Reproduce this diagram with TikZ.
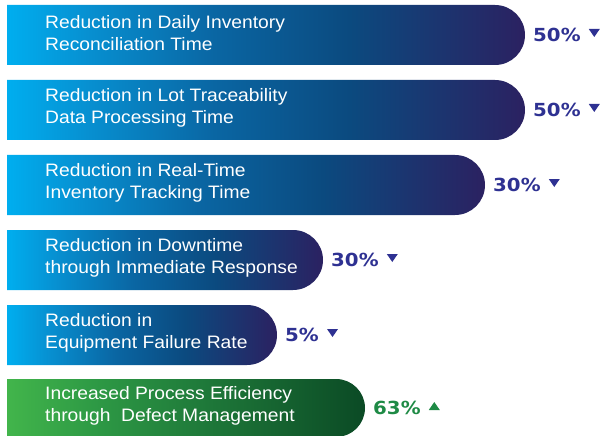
\documentclass[tikz,border=0pt]{standalone}
\usepackage{fontspec}
\setmainfont{Liberation Sans}[FakeStretch=1.07]
\newfontfamily\pctfont{DejaVu Sans}[FakeStretch=1.1]
\usepackage{tikz}
\usetikzlibrary{positioning,calc}

\definecolor{barA}{HTML}{00AEEF}
\definecolor{barB}{HTML}{078FD0}
\definecolor{barC}{HTML}{0A66A3}
\definecolor{barD}{HTML}{0B4A7F}
\definecolor{barE}{HTML}{2B2161}
\definecolor{grnA}{HTML}{42B54B}
\definecolor{grnB}{HTML}{2E9A45}
\definecolor{grnC}{HTML}{1F7A3A}
\definecolor{grnE}{HTML}{0B4A25}
\definecolor{pctblue}{HTML}{2E3192}
\definecolor{pctgreen}{HTML}{1E8A45}

\pgfdeclarehorizontalshading{bluebar}{100bp}{color(0bp)=(barA); color(25bp)=(barA); color(33bp)=(barB); color(45bp)=(barC); color(58bp)=(barD); color(75bp)=(barE); color(100bp)=(barE)}
\pgfdeclarehorizontalshading{greenbar}{100bp}{color(0bp)=(grnA); color(25bp)=(grnA); color(37bp)=(grnB); color(52bp)=(grnC); color(75bp)=(grnE); color(100bp)=(grnE)}

\tikzset{
  barlabel/.style={text=white, font=\fontsize{18}{21.5}\selectfont, align=left, inner sep=0pt, anchor=west},
  barvalue/.style={font=\pctfont\bfseries\fontsize{18}{18}\selectfont, inner sep=0pt, right=8pt of #1}
}

\begin{document}
\begin{tikzpicture}[x=1pt,y=-1pt]
      \useasboundingbox (0,0) rectangle (606,436);
      \clip (0,0) rectangle (606,436);
      \shade [shading=bluebar] (7,5) -- (495,5) arc[start angle=-90,end angle=90,radius=30] -- (7,65) -- cycle;
      \shade [shading=bluebar] (7,80) -- (495,80) arc[start angle=-90,end angle=90,radius=30] -- (7,140) -- cycle;
      \shade [shading=bluebar] (7,155) -- (455,155) arc[start angle=-90,end angle=90,radius=30] -- (7,215) -- cycle;
      \shade [shading=bluebar] (7,230) -- (293,230) arc[start angle=-90,end angle=90,radius=30] -- (7,290) -- cycle;
      \shade [shading=bluebar] (7,305) -- (247,305) arc[start angle=-90,end angle=90,radius=30] -- (7,365) -- cycle;
      \shade [shading=greenbar] (7,379) -- (336,379) arc[start angle=-90,end angle=90,radius=29] -- (7,437) -- cycle;

      \coordinate (end1) at (525,35);
      \coordinate (end2) at (525,110);
      \coordinate (end3) at (485,185);
      \coordinate (end4) at (323,260);
      \coordinate (end5) at (277,335);
      \coordinate (end6) at (365,408);

      \node [barlabel] (label1) at (45,33) {Reduction in Daily Inventory\\Reconciliation Time};
      \node [barlabel] (label2) at (45,108) {Reduction in Lot Traceability\\Data Processing Time};
      \node [barlabel] (label3) at (45,183) {Reduction in Real-Time\\Inventory Tracking Time};
      \node [barlabel] (label4) at (45,258) {Reduction in Downtime\\through Immediate Response};
      \node [barlabel] (label5) at (45,333) {Reduction in\\Equipment Failure Rate};
      \node [barlabel] (label6) at (45,406) {Increased Process Efficiency\\through\ \ Defect Management};

      \node [barvalue=end1, text=pctblue] (value1) {50\%};
      \node [barvalue=end2, text=pctblue] (value2) {50\%};
      \node [barvalue=end3, text=pctblue] (value3) {30\%};
      \node [barvalue=end4, text=pctblue] (value4) {30\%};
      \node [barvalue=end5, text=pctblue] (value5) {5\%};
      \node [barvalue=end6, text=pctgreen] (value6) {63\%};

      \fill [pctblue] ($(value1.east)+(8,-6)$) -- ++(11,0) -- ++(-5.5,8) -- cycle;
      \fill [pctblue] ($(value2.east)+(8,-6)$) -- ++(11,0) -- ++(-5.5,8) -- cycle;
      \fill [pctblue] ($(value3.east)+(8,-6)$) -- ++(11,0) -- ++(-5.5,8) -- cycle;
      \fill [pctblue] ($(value4.east)+(8,-6)$) -- ++(11,0) -- ++(-5.5,8) -- cycle;
      \fill [pctblue] ($(value5.east)+(8,-6)$) -- ++(11,0) -- ++(-5.5,8) -- cycle;
      \fill [pctgreen] ($(value6.east)+(8,2)$) -- ++(11,0) -- ++(-5.5,-8) -- cycle;
\end{tikzpicture}
\end{document}
